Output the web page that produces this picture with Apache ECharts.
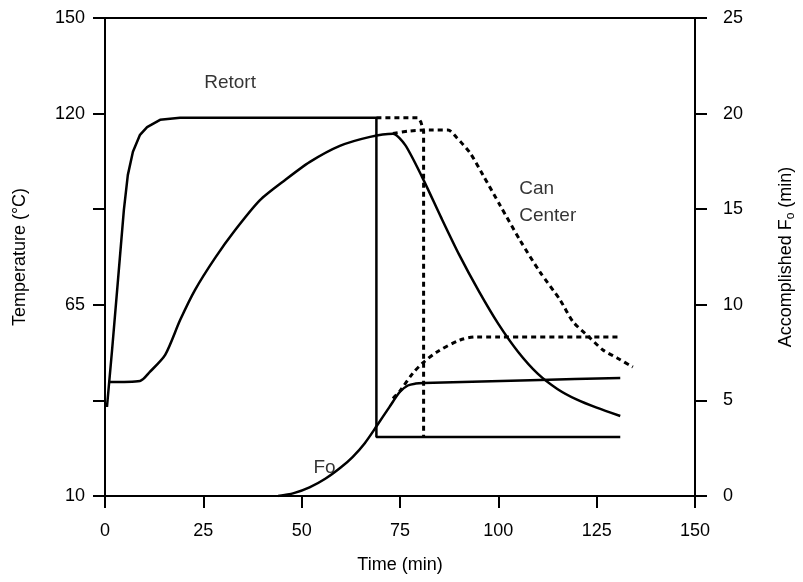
<!DOCTYPE html>
<html lang="en">

<head>
    <meta charset="UTF-8">
    <title>retort process</title>
    <script type="text/javascript" src="https://cdn.jsdelivr.net/npm/echarts@6/dist/echarts.min.js"></script>
    <style>
        html, body { margin: 0; padding: 0; background: #fff; }
    </style>
</head>

<body>
    <div id="main" style="width: 803px;height:582px;"></div>
    <script type="text/javascript">
    // time in min, temperature in °C, Fo in min
    var retort = [[0.5, 35.6], [1.8, 52], [3.3, 72.1], [4.8, 92.3], [5.8, 102.3], [7.1, 109], [8.9, 113.9],
        [10.7, 116.1], [14, 118.2], [19.1, 118.8], [69, 118.8], [69, 27], [131, 27]];
    var retortLong = [[69, 118.8], [79.6, 118.8], [80.3, 117.6], [81, 115], [81, 27]];

    var canCenter = [[0.8, 42.8], [8.9, 43.1], [11.4, 45.7], [15.3, 50.6], [19.1, 60.6], [22.9, 69.3], [28, 78.5],
        [33.1, 86.5], [39.4, 95.1], [45.8, 100.9], [52.1, 106.1], [59.7, 110.7], [67.4, 113.3], [73.2, 114.2],
        [76.3, 111], [80.6, 101.8], [85.5, 90], [90, 79.5], [95, 69], [100, 59.5], [105, 51.5],
        [110, 45.2], [115, 40.8], [120, 37.7], [125, 35.4], [131, 33]];
    var canCenterLong = [[73.2, 114.3], [77.5, 115], [82.6, 115.3], [87.2, 115.3], [89.5, 113], [92.8, 108.7],
        [96.1, 102.3], [100.4, 93.7], [105.5, 83.6], [110.6, 74.4], [115.7, 66.4], [119, 60.1], [123.3, 55.5],
        [126.6, 52], [130.2, 49.7], [134.2, 47.1]];

    var fo = [[44, 0], [48, 0.15], [52, 0.45], [56, 0.9], [60, 1.5], [63, 2.05], [66, 2.75], [69.2, 3.7],
        [72.3, 4.65], [75, 5.45], [77, 5.78], [79, 5.88], [81, 5.91], [110.6, 6.07], [131, 6.17]];
    var foLong = [[73.2, 5.1], [75, 5.5], [78.3, 6.43], [80.8, 6.96], [84.4, 7.53], [90.3, 8.16], [94.6, 8.32], [131, 8.32]];

    var tempTicks = [10, 37.5, 65, 92.5, 120, 147.5];
    var tempLabels = [10, 65, 120, 147.5];
    var tempLabelText = { 10: '10', 65: '65', 120: '120', 147.5: '150' };

    // annotations: [text, time, value, axis]
    var notes = [['Retort', 31.8, 129, 0], ['Can\nCenter', 105.3, 94.6, 0], ['Fo', 55.8, 1.5, 1]];

    var font = '"Liberation Sans", Arial, Helvetica, sans-serif';
    var myChart = echarts.init(document.getElementById('main'));

    function line(name, data, axis, dashed, smooth) {
        return {
            name: name,
            type: 'line',
            yAxisIndex: axis,
            data: data,
            symbol: 'none',
            smooth: smooth,
            silent: true,
            lineStyle: {
                color: '#000',
                width: dashed ? 3 : 2.5,
                type: dashed ? [5, 4] : 'solid'
            }
        };
    }

    function noteSeries(axis) {
        return {
            type: 'scatter',
            yAxisIndex: axis,
            symbolSize: 0,
            silent: true,
            data: notes.filter(function(n) { return n[3] === axis; }).map(function(n) {
                return { value: [n[1], n[2]], name: n[0] };
            }),
            label: {
                show: true,
                position: 'inside',
                formatter: '{b}',
                color: '#000',
                fontSize: 19,
                fontFamily: font,
                lineHeight: 27
            }
        };
    }

    var series = [
        line('Retort', retort, 0, false, false),
        line('Retort long', retortLong, 0, true, false),
        line('Can Center', canCenter, 0, false, 0.25),
        line('Can Center long', canCenterLong, 0, true, 0.25),
        line('Fo', fo, 1, false, 0.3),
        line('Fo long', foLong, 1, true, 0.3),
        noteSeries(0),
        noteSeries(1)
    ];
    series[6].data[1].label = { align: 'left' };

    function axisLine() {
        return { show: true, onZero: false, lineStyle: { color: '#000', width: 2 } };
    }
    function axisTick() {
        return { show: true, inside: false, length: 12, lineStyle: { color: '#000', width: 2 } };
    }
    var tickLabel = { color: '#000', fontSize: 18, fontFamily: font };
    var nameStyle = { fontSize: 18, color: '#000', fontFamily: font };

    option = {
        animation: false,
        backgroundColor: '#fff',
        textStyle: { fontFamily: font, color: '#000' },
        grid: { left: 105, right: 108, top: 18, bottom: 86, containLabel: false, outerBoundsMode: 'none' },
        xAxis: [{
            type: 'value',
            min: 0,
            max: 150,
            interval: 25,
            name: 'Time (min)',
            nameLocation: 'middle',
            nameGap: 60,
            nameTextStyle: nameStyle,
            axisLine: axisLine(),
            axisTick: axisTick(),
            axisLabel: Object.assign({ margin: 26 }, tickLabel),
            splitLine: { show: false }
        }, {
            type: 'value',
            position: 'top',
            min: 0,
            max: 150,
            axisLine: axisLine(),
            axisTick: { show: false },
            axisLabel: { show: false },
            splitLine: { show: false }
        }],
        yAxis: [{
            type: 'value',
            position: 'left',
            min: 10,
            max: 147.5,
            name: 'Temperature (°C)',
            nameLocation: 'middle',
            nameRotate: 90,
            nameGap: 76,
            nameTextStyle: nameStyle,
            axisLine: axisLine(),
            axisTick: Object.assign(axisTick(), { customValues: tempTicks }),
            axisLabel: Object.assign({
                customValues: tempLabels,
                margin: 20,
                formatter: function(val) {
                    return tempLabelText[val] || '';
                }
            }, tickLabel),
            splitLine: { show: false }
        }, {
            type: 'value',
            position: 'right',
            min: 0,
            max: 25,
            interval: 5,
            name: 'Accomplished F{sub|o} (min)',
            nameLocation: 'middle',
            nameRotate: 90,
            nameGap: 80,
            nameTextStyle: Object.assign({
                rich: {
                    sub: { fontSize: 12, fontFamily: font, color: '#000', padding: [10, 0, 0, 0] }
                }
            }, nameStyle),
            axisLine: axisLine(),
            axisTick: axisTick(),
            axisLabel: Object.assign({ margin: 28 }, tickLabel),
            splitLine: { show: false }
        }],
        series: series
    };

    myChart.setOption(option);
    </script>
</body>

</html>
